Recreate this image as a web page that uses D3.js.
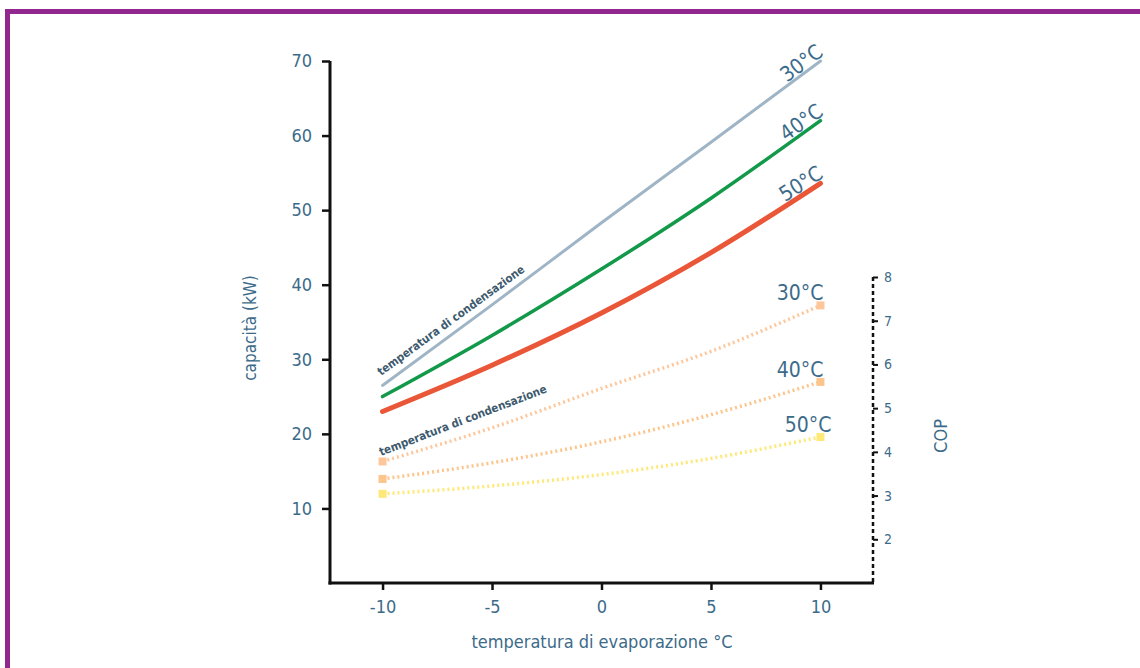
<!doctype html>
<html>
<head>
<meta charset="utf-8">
<title>capacità e COP</title>
<script src="https://cdn.jsdelivr.net/npm/d3@7"></script>
<style>
  body { margin: 0; background: #fff; }
  svg { display: block; }
  .lbl { font-family: "DejaVu Sans Condensed", "Liberation Sans Narrow", sans-serif; font-stretch: condensed; fill: #3c6b8a; }
  .axis path, .axis line { stroke: #111; }
  .axis text { font-family: "DejaVu Sans Condensed", "Liberation Sans Narrow", sans-serif; font-stretch: condensed; fill: #3c6b8a; }
</style>
</head>
<body>
<script>
// evaporation temperature (°C)
var evap = [-10, -5, 0, 5, 10];

// capacity (kW) per condensing temperature
var cap30 = [26.5, 37.3, 48.3, 59.1, 70.0];
var cap40 = [25.0, 33.2, 42.1, 51.6, 62.0];
var cap50 = [23.0, 29.2, 36.2, 44.3, 53.6];

// COP per condensing temperature
var cop30 = [3.78, 4.55, 5.45, 6.3, 7.35];
var cop40 = [3.38, 3.75, 4.23, 4.85, 5.6];
var cop50 = [3.04, 3.22, 3.48, 3.85, 4.34];

var xTicks = [-10, -5, 0, 5, 10];
var yTicks = [10, 20, 30, 40, 50, 60, 70];
var copTicks = [2, 3, 4, 5, 6, 7, 8];

var W = 1140, H = 668;
var svg = d3.select("body").append("svg").attr("width", W).attr("height", H);

// purple frame
svg.append("rect")
    .attr("x", 7.5).attr("y", 11.5)
    .attr("width", W + 20).attr("height", H + 20)
    .attr("fill", "none")
    .attr("stroke", "#92278f")
    .attr("stroke-width", 5);

var x = d3.scaleLinear().domain([-12.4, 12.4]).range([330, 873]);
var y = d3.scaleLinear().domain([0, 70]).range([583, 61]);
var yc = d3.scaleLinear().domain([1, 8]).range([583, 277]);

var fmt = function(d) { return String(d); };   // plain hyphen minus

// left axis
var gy = svg.append("g").attr("class", "axis")
    .attr("transform", "translate(" + x(-12.4) + ",0)")
    .call(d3.axisLeft(y).tickValues(yTicks).tickFormat(fmt).tickSize(8).tickPadding(10).tickSizeOuter(0));
gy.select(".domain").attr("stroke-width", 3).attr("d", "M0," + y(70) + "V" + (y(0) + 1.5));
gy.selectAll(".tick line").attr("stroke-width", 2.5);
gy.selectAll(".tick text").style("font-size", "18px");

// bottom axis
var gx = svg.append("g").attr("class", "axis")
    .attr("transform", "translate(0," + y(0) + ")")
    .call(d3.axisBottom(x).tickValues(xTicks).tickFormat(fmt).tickSize(7).tickPadding(10).tickSizeOuter(0));
gx.select(".domain").attr("stroke-width", 3).attr("d", "M" + (x(-12.4) - 1.5) + ",0H" + (x(12.4) + 1));
gx.selectAll(".tick line").attr("stroke-width", 2.5);
gx.selectAll(".tick text").style("font-size", "18px");

// right COP axis (dashed)
var gr = svg.append("g").attr("class", "axis")
    .attr("transform", "translate(" + x(12.4) + ",0)")
    .call(d3.axisRight(yc).tickValues(copTicks).tickFormat(fmt).tickSize(5).tickPadding(6).tickSizeOuter(0));
gr.select(".domain").attr("stroke-width", 2.5).attr("stroke-dasharray", "4 3")
    .attr("d", "M0," + yc(8) + "V" + y(0));
gr.selectAll(".tick line").attr("stroke-width", 2);
gr.selectAll(".tick text").style("font-size", "14px");

// axis titles
svg.append("text").attr("class", "lbl")
    .attr("transform", "translate(256,328) rotate(-90)")
    .attr("text-anchor", "middle")
    .style("font-size", "17px")
    .text("capacità (kW)");

svg.append("text").attr("class", "lbl")
    .attr("transform", "translate(947,436) rotate(-90)")
    .attr("text-anchor", "middle")
    .style("font-size", "18px")
    .text("COP");

svg.append("text").attr("class", "lbl")
    .attr("x", 602).attr("y", 648)
    .attr("text-anchor", "middle")
    .style("font-size", "18px")
    .text("temperatura di evaporazione °C");

// capacity curves
var capLine = d3.line().curve(d3.curveMonotoneX)
    .x(function(d, i) { return x(evap[i]); })
    .y(function(d) { return y(d); });

var capSeries = [
  { name: "30°C", values: cap30, color: "#9fb5c6", width: 3 },
  { name: "40°C", values: cap40, color: "#12994a", width: 3.5 },
  { name: "50°C", values: cap50, color: "#ea5638", width: 5 }
];

capSeries.forEach(function(s) {
  svg.append("path")
      .attr("d", capLine(s.values))
      .attr("fill", "none")
      .attr("stroke", s.color)
      .attr("stroke-width", s.width)
      .attr("stroke-linecap", "round");
  var n = s.values.length;
  var x1 = x(evap[n - 2]), y1 = y(s.values[n - 2]);
  var x2 = x(evap[n - 1]), y2 = y(s.values[n - 1]);
  var ang = Math.atan2(y2 - y1, x2 - x1) * 180 / Math.PI;
  svg.append("text").attr("class", "lbl")
      .attr("transform", "translate(" + (x2 + 4) + "," + (y2 - 6) + ") rotate(" + ang + ")")
      .attr("text-anchor", "end")
      .style("font-size", "21px")
      .text(s.name);
});

// COP curves (dotted)
var copLine = d3.line().curve(d3.curveMonotoneX)
    .x(function(d, i) { return x(evap[i]); })
    .y(function(d) { return yc(d); });

var copSeries = [
  { name: "30°C", values: cop30, color: "#fdc79b", lx: 800, ly: 300 },
  { name: "40°C", values: cop40, color: "#fcc58c", lx: 800, ly: 377 },
  { name: "50°C", values: cop50, color: "#fde878", lx: 808, ly: 432 }
];

copSeries.forEach(function(s) {
  svg.append("path")
      .attr("d", copLine(s.values))
      .attr("fill", "none")
      .attr("stroke", s.color)
      .attr("stroke-width", 3.5)
      .attr("stroke-dasharray", "2 3");
  var ends = [0, s.values.length - 1];
  svg.selectAll(null).data(ends).enter().append("rect")
      .attr("x", function(i) { return x(evap[i]) - 4; })
      .attr("y", function(i) { return yc(s.values[i]) - 4; })
      .attr("width", 8).attr("height", 8)
      .attr("fill", s.color);
  svg.append("text").attr("class", "lbl")
      .attr("x", s.lx).attr("y", s.ly)
      .attr("text-anchor", "middle")
      .style("font-size", "21px")
      .text(s.name);
});

// "temperatura di condensazione" labels
function condLabel(x0, y0, ang) {
  svg.append("text").attr("class", "lbl")
      .attr("transform", "translate(" + x0 + "," + y0 + ") rotate(" + ang + ")")
      .style("font-size", "11.5px")
      .style("font-weight", "bold")
      .style("fill", "#3d5a6e")
      .text("temperatura di condensazione");
}
condLabel(381, 376, -36);
condLabel(381, 456, -21);
</script>
</body>
</html>
